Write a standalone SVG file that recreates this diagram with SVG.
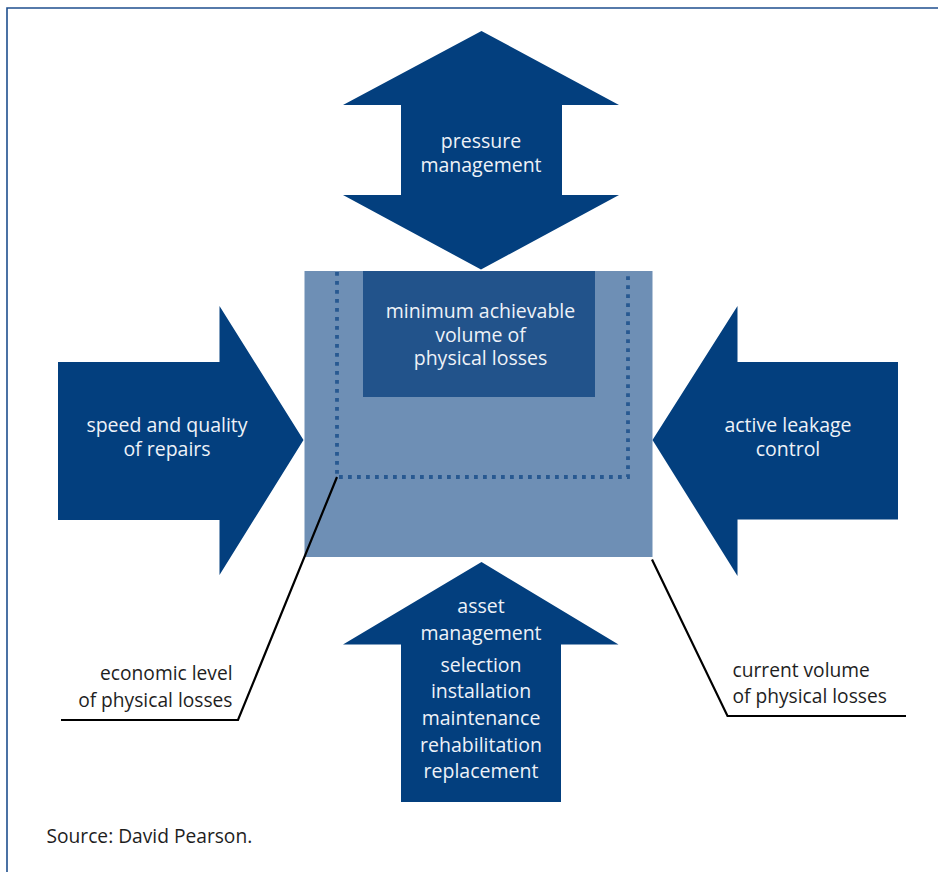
<svg xmlns="http://www.w3.org/2000/svg" width="938" height="872" viewBox="0 0 938 872">
<style>
.arrow{fill:#033f7e}
.wt{font-family:"Open Sans","Noto Sans",sans-serif;font-size:19.5px;fill:#eef2f8;text-anchor:middle}
.lbl{font-family:"Open Sans","Noto Sans",sans-serif;font-size:19.2px;fill:#1e1e1e}
.lead{fill:none;stroke:#000;stroke-width:2.2}
</style>
<rect width="938" height="872" fill="#fff"/>
<g id="frame">
<path d="M7,872 V8 H938" fill="none" stroke="#1f4f8e" stroke-width="1.6"/>
</g>
<g id="center-box">
<rect x="304.5" y="271" width="348" height="286" fill="#6e8fb5"/>
<rect x="363" y="271" width="232" height="126" fill="#22538b"/>
<path d="M337,272 V477 H628 V272" fill="none" stroke="#285991" stroke-width="3.8" stroke-dasharray="3.8 5.2"/>
<text class="wt" x="480.5" y="318">minimum achievable</text>
<text class="wt" x="480.5" y="341.5">volume of</text>
<text class="wt" x="480.5" y="365">physical losses</text>
</g>
<g id="pressure-management">
<polygon class="arrow" points="481.5,31 619,105 562,105 562,195 619,195 481,269.5 343,195 401,195 401,105 343,105"/>
<text class="wt" x="481" y="148">pressure</text>
<text class="wt" x="481" y="171.5">management</text>
</g>
<g id="speed-quality-repairs">
<polygon class="arrow" points="58,362 219.5,362 219.5,306 303.5,440 219.5,575 219.5,520 58,520"/>
<text class="wt" x="167" y="432">speed and quality</text>
<text class="wt" x="167" y="456">of repairs</text>
</g>
<g id="active-leakage-control">
<polygon class="arrow" points="898,362 737.5,362 737.5,306 652.5,440 737.5,576 737.5,519.5 898,519.5"/>
<text class="wt" x="788" y="432">active leakage</text>
<text class="wt" x="788" y="456">control</text>
</g>
<g id="asset-management">
<polygon class="arrow" points="481.5,562 618.5,644.5 561,644.5 561,802 401,802 401,644.5 343,644.5"/>
<text class="wt" x="481" y="613">asset</text>
<text class="wt" x="481" y="640">management</text>
<text class="wt" x="481" y="671.5">selection</text>
<text class="wt" x="481" y="698">installation</text>
<text class="wt" x="481" y="725">maintenance</text>
<text class="wt" x="481" y="751.5">rehabilitation</text>
<text class="wt" x="481" y="778">replacement</text>
</g>
<g id="connectors">
<polyline class="lead" points="337,477 238,720 61,720"/>
<polyline class="lead" points="652,559.5 727.5,716 906,716"/>
</g>
<g id="economic-level">
<text class="lbl" x="232.5" y="680" text-anchor="end">economic level</text>
<text class="lbl" x="232.5" y="706.5" text-anchor="end">of physical losses</text>
</g>
<g id="current-volume">
<text class="lbl" x="732.5" y="677">current volume</text>
<text class="lbl" x="732.5" y="702.5">of physical losses</text>
</g>
<g id="source">
<text class="lbl" x="46.5" y="843">Source: David Pearson.</text>
</g>
</svg>
